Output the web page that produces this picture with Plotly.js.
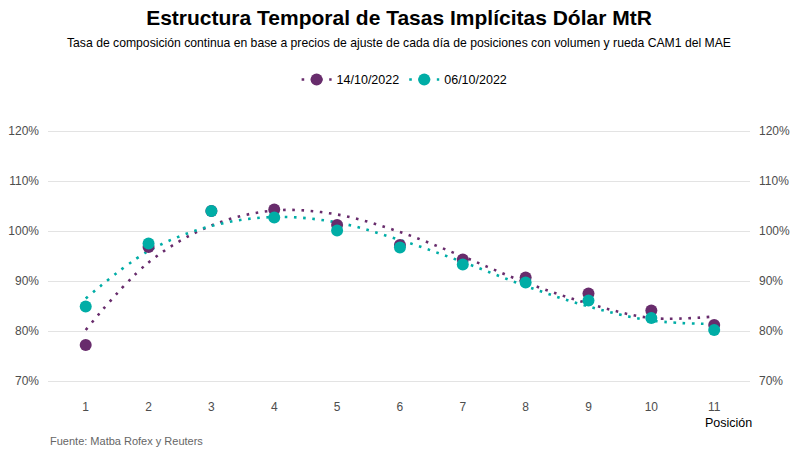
<!DOCTYPE html>
<html>
<head>
<meta charset="utf-8">
<script src="https://cdn.plot.ly/plotly-3.0.1.min.js"></script>
<style>
  html, body { margin: 0; padding: 0; background: #fff; }
  #plot { width: 800px; height: 457px; }
</style>
</head>
<body>
<div id="plot"></div>
<script>
var posiciones = [1, 2, 3, 4, 5, 6, 7, 8, 9, 10, 11];

// tasas observadas (%)
var tasa_1410 = [77.2, 96.8, 104.0, 104.3, 101.2, 97.2, 94.3, 90.7, 87.5, 84.1, 81.2];
var tasa_0610 = [84.9, 97.5, 104.0, 102.7, 100.1, 96.7, 93.3, 89.7, 86.1, 82.6, 80.2];

// curvas suavizadas (%)
var suave_1410 = [80.2, 93.7, 101.1, 104.1, 103.3, 99.8, 94.9, 89.7, 85.5, 82.6, 82.9];
var suave_0610 = [86.5, 96.0, 101.0, 102.8, 101.7, 98.2, 93.8, 89.0, 84.9, 82.1, 81.4];

var nombres = ["14/10/2022", "06/10/2022"];
var colores = ["#682c6c", "#00ada6"];

var ticks_y = [70, 80, 90, 100, 110, 120];
var ticks_y_txt = ticks_y.map(function (v) { return v + "%"; });

var font = "Liberation Sans, Arial, sans-serif";
var punteado = "2.6px,6.6px";

function traza_suave(y, i) {
  return {
    x: posiciones, y: y,
    mode: "lines",
    line: { color: colores[i], width: 2.6, dash: punteado, shape: "spline", smoothing: 1 },
    hoverinfo: "skip",
    showlegend: false
  };
}

function traza_puntos(y, i) {
  return {
    x: posiciones, y: y, mode: "markers", name: nombres[i],
    marker: { color: colores[i], size: 12 }, showlegend: false
  };
}

function traza_leyenda(i) {
  return {
    x: [null], y: [null], mode: "markers+lines", name: nombres[i],
    marker: { color: colores[i], size: 12 },
    line: { color: colores[i], width: 2.6, dash: punteado }
  };
}

var data = [
  traza_suave(suave_1410, 0),
  traza_suave(suave_0610, 1),
  traza_puntos(tasa_1410, 0),
  traza_puntos(tasa_0610, 1),
  traza_leyenda(0),
  traza_leyenda(1),
  // traza vacia para que se dibuje el eje derecho
  { x: [null], y: [null], yaxis: "y2", showlegend: false, hoverinfo: "skip" }
];

var eje_y = {
  range: [67, 123],
  tickvals: ticks_y,
  ticktext: ticks_y_txt,
  showgrid: true,
  gridcolor: "#e3e3e3",
  gridwidth: 1,
  zeroline: false,
  showline: false,
  ticks: "",
  ticklabelstandoff: 8,
  tickfont: { family: font, size: 12, color: "#4d4d4d" },
  fixedrange: true
};

var eje_y2 = Object.assign({}, eje_y, {
  overlaying: "y",
  side: "right",
  showgrid: false,
  matches: "y"
});

var layout = {
  width: 800,
  height: 457,
  paper_bgcolor: "#ffffff",
  plot_bgcolor: "#ffffff",
  margin: { l: 48, r: 50, t: 116, b: 61 },
  font: { family: font, color: "#222" },
  title: {
    text: "<b>Estructura Temporal de Tasas Implícitas Dólar MtR</b>",
    x: 0.5, xref: "paper", xanchor: "center",
    y: 0.962, yref: "container", yanchor: "middle",
    font: { family: font, size: 21, color: "#000" }
  },
  showlegend: true,
  legend: {
    orientation: "h",
    x: 0.508, xanchor: "center",
    y: 1.129, yanchor: "middle",
    font: { family: font, size: 12.5, color: "#000" },
    itemwidth: 30,
    tracegroupgap: 0
  },
  xaxis: {
    range: [0.4, 11.57],
    tickvals: posiciones,
    showgrid: false,
    zeroline: false,
    showline: false,
    ticks: "",
    ticklabelstandoff: 2,
    tickfont: { family: font, size: 12, color: "#4d4d4d" },
    fixedrange: true
  },
  yaxis: eje_y,
  yaxis2: eje_y2,
  annotations: [
    {
      text: "Tasa de composición continua en base a precios de ajuste de cada día de posiciones con volumen y rueda CAM1 del MAE",
      xref: "paper", yref: "paper", x: 0.5, y: 1.0, yshift: 73,
      xanchor: "center", yanchor: "middle", showarrow: false,
      font: { family: font, size: 12.2, color: "#000" }
    },
    {
      text: "Posición",
      xref: "x", yref: "paper", x: 11.22, y: 0, yshift: -27,
      xanchor: "center", yanchor: "middle", showarrow: false,
      font: { family: font, size: 12.5, color: "#000" }
    },
    {
      text: "Fuente: Matba Rofex y Reuters",
      xref: "paper", yref: "paper", x: 0, y: 0, yshift: -45,
      xanchor: "left", yanchor: "middle", showarrow: false,
      font: { family: font, size: 11, color: "#666" }
    }
  ]
};

Plotly.newPlot("plot", data, layout, { displayModeBar: false, staticPlot: true });
</script>
</body>
</html>
